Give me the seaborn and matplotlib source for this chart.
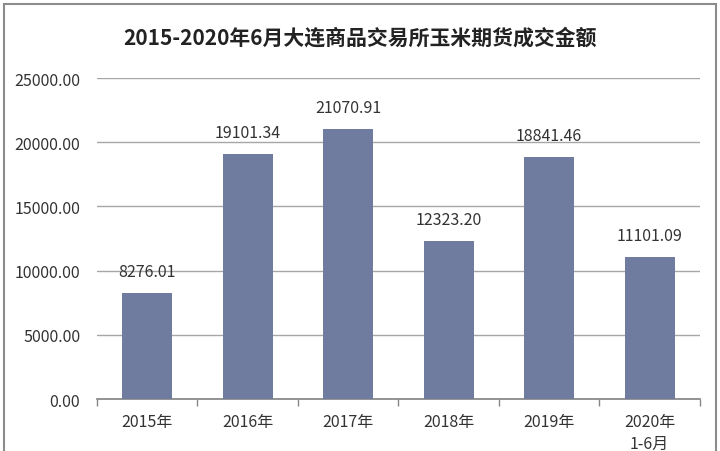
import matplotlib
matplotlib.use('Agg')
import matplotlib.pyplot as plt
from matplotlib.patches import Rectangle
import seaborn as sns
import numpy as np
import pandas as pd

# chart data
years = ['2015年', '2016年', '2017年', '2018年', '2019年', '2020年\n1-6月']
amounts = [8276.01, 19101.34, 21070.91, 12323.20, 18841.46, 11101.09]

TITLE = '2015-2020年6月大连商品交易所玉米期货成交金额'
BAR_CLR = '#6f7c9f'

sns.set_theme(style='white')
plt.rcParams['font.family'] = ['Noto Sans CJK SC', 'DejaVu Sans']

df = pd.DataFrame({'year': years, 'amount': amounts})

fig = plt.figure(figsize=(7.2, 4.52), dpi=100)
ax = fig.add_axes([0.1347, 0.115, 0.8375, 0.71])

sns.barplot(data=df, x='year', y='amount', color=BAR_CLR, width=0.5,
            saturation=1, linewidth=0, ax=ax, zorder=3)

# value labels
for i, v in enumerate(amounts):
    ax.text(i, v + 1000, '%.2f' % v, ha='center', va='bottom',
            fontsize=11.5, color='#333333')

ax.set_ylim(0, 25000)
ax.set_xlim(-0.5, 5.5)
ax.set_yticks(np.arange(0, 25001, 5000))
ax.set_yticklabels(['%.2f' % t for t in np.arange(0, 25001, 5000)])
ax.yaxis.grid(True, color='#a6a6a6', linewidth=1, zorder=0)
ax.set_xlabel('')
ax.set_ylabel('')

for s in ['top', 'right', 'left']:
    ax.spines[s].set_visible(False)
ax.spines['bottom'].set_color('#868686')

# category boundary ticks on x axis
ax.set_xticks(np.arange(-0.5, 6, 1), minor=True)
ax.tick_params(axis='x', which='minor', length=5, color='#868686',
               bottom=True)
ax.tick_params(axis='x', which='major', length=0, labelsize=11.5,
               labelcolor='#333333', pad=10)
ax.tick_params(axis='y', length=0, labelsize=11.5, labelcolor='#333333',
               pad=12)
for lab in ax.get_xticklabels():
    lab.set_verticalalignment('top')
    lab.set_linespacing(1.35)

fig.text(0.5, 0.916, TITLE, ha='center', va='center', fontsize=15,
         fontweight='bold', color='#222222')

# outer frame
fig.patches.append(Rectangle((0.006, -0.05), 0.988, 1.04,
                             transform=fig.transFigure, fill=False,
                             edgecolor='#8c8c8c', linewidth=1.5))

plt.savefig('out.png', dpi=100)
